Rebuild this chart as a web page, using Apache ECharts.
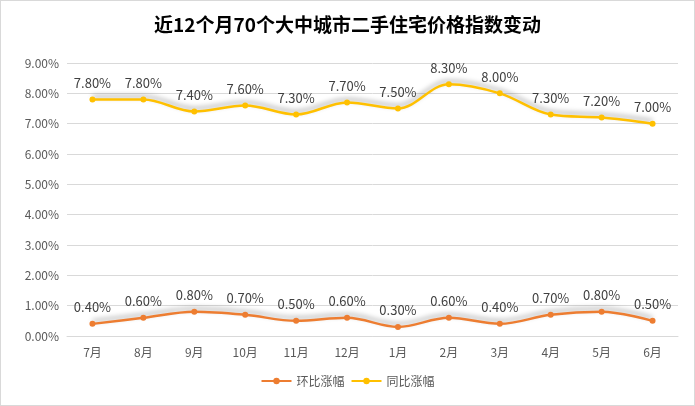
<!DOCTYPE html>
<html>
<head>
<meta charset="utf-8">
<script src="https://cdn.jsdelivr.net/npm/echarts@6/dist/echarts.min.js"></script>
<style>
    html, body { margin: 0; padding: 0; background: #fff; }
    #main {
        width: 693px;
        height: 404px;
        border: 1px solid #d9d9d9;
    }
</style>
</head>
<body>
<div id="main"></div>
<script>
    // 月份
    var months = ['7月', '8月', '9月', '10月', '11月', '12月', '1月', '2月', '3月', '4月', '5月', '6月']
    // 环比涨幅 (%)
    var mom = [0.4, 0.6, 0.8, 0.7, 0.5, 0.6, 0.3, 0.6, 0.4, 0.7, 0.8, 0.5]
    // 同比涨幅 (%)
    var yoy = [7.8, 7.8, 7.4, 7.6, 7.3, 7.7, 7.5, 8.3, 8.0, 7.3, 7.2, 7.0]

    var font = 'Microsoft YaHei, "Noto Sans CJK SC", sans-serif'

    function lineSeries (name, color, data) {
        return {
            name: name,
            type: 'line',
            smooth: 0.35,
            data: data,
            symbol: 'circle',
            symbolSize: 6,
            itemStyle: { color: color },
            lineStyle: {
                color: color,
                width: 2.5,
                shadowColor: 'rgba(0,0,0,0.35)',
                shadowBlur: 5,
                shadowOffsetY: -3
            },
            label: {
                show: true,
                position: 'top',
                distance: 7,
                color: '#404040',
                fontSize: 13,
                fontFamily: font,
                formatter: function (p) { return p.value.toFixed(2) + '%' }
            }
        }
    }

    var myChart = echarts.init(document.getElementById('main'))

    myChart.setOption({
        animation: false,
        title: {
            text: '近12个月70个大中城市二手住宅价格指数变动',
            left: 'center',
            top: 9,
            textStyle: { fontSize: 19, fontWeight: 'bold', color: '#000', fontFamily: font }
        },
        legend: {
            bottom: 13,
            left: 'center',
            itemWidth: 30,
            itemHeight: 8,
            itemGap: 6,
            textStyle: { color: '#595959', fontSize: 12, fontFamily: font },
            data: ['环比涨幅', '同比涨幅']
        },
        grid: {
            left: 66,
            right: 16,
            top: 62,
            bottom: 69
        },
        xAxis: {
            type: 'category',
            data: months,
            axisLine: { lineStyle: { color: '#d9d9d9' } },
            axisTick: { show: false },
            axisLabel: { color: '#595959', fontSize: 12, margin: 10, fontFamily: font }
        },
        yAxis: {
            type: 'value',
            min: 0,
            max: 9,
            interval: 1,
            axisLine: { show: false },
            axisTick: { show: false },
            splitLine: { lineStyle: { color: '#d9d9d9' } },
            axisLabel: {
                color: '#595959',
                fontSize: 12,
                fontFamily: font,
                margin: 8,
                formatter: function (v) { return v.toFixed(2) + '%' }
            }
        },
        series: [
            lineSeries('环比涨幅', '#ED7D31', mom),
            lineSeries('同比涨幅', '#FFC000', yoy)
        ]
    })
</script>
</body>
</html>
